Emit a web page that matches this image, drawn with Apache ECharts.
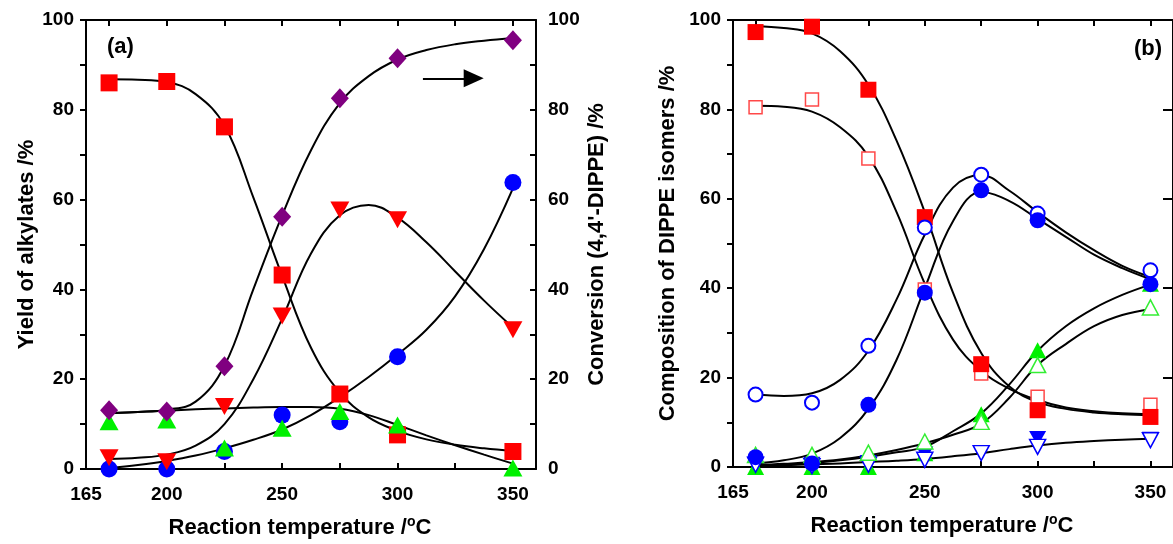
<!DOCTYPE html>
<html>
<head>
<meta charset="utf-8">
<script src="https://cdn.jsdelivr.net/npm/echarts@6/dist/echarts.min.js"></script>
<style>
html,body{margin:0;padding:0;background:#fff;}
#chart{width:1173px;height:544px;}
</style>
</head>
<body>
<div id="chart"></div>
<script>
// ---------- data ----------
const temps = [175, 200, 225, 250, 275, 300, 350];
const fitT = [175, 187.5, 200, 212.5, 225, 237.5, 250, 262.5, 275, 287.5, 300, 312.5, 325, 337.5, 350];
const xLabelTicks = [165, 200, 250, 300, 350];
const xMinorTicks = [175, 200, 225, 250, 275, 300, 325, 350];

// panel (a): yields (left axis) and conversion (right axis)
const aSquare  = [86.0, 86.3, 76.2, 43.2, 16.7, 7.6, 3.9];
const aTriDown = [2.5, 1.6, 13.9, 34.1, 57.7, 55.5, 31.0];
const aCircle  = [0, 0, 3.9, 12.0, 10.5, 25.0, 63.8];
const aTriUp   = [10.5, 10.9, 4.7, 9.1, 12.8, 9.8, 0.2];
const aDiamond = [13.1, 12.8, 22.9, 56.2, 82.6, 91.5, 95.5];

// panel (a) fitted curves
const aFitSquare  = [86.8, 86.7, 86.2, 83.5, 76.5, 60.5, 43, 27, 17, 11.5, 8.5, 6.6, 5.4, 4.6, 4.0];
const aFitTriDown = [2.2, 2.5, 3.2, 5.2, 10, 20, 33.5, 48, 56.5, 58.8, 56, 50.5, 44, 37.5, 31.5];
const aFitCircle  = [0.2, 0.9, 1.8, 3.0, 4.6, 6.5, 8.8, 12, 16, 20.5, 25.5, 31, 38.5, 49, 62.5];
const aFitTriUp   = [12.4, 12.7, 13, 13.3, 13.5, 13.7, 13.8, 13.8, 13.4, 12, 9.8, 7.5, 5.3, 3.2, 1.2];
const aFitDiamond = [12.5, 12.7, 13.2, 15, 23, 40, 56.5, 71, 81.5, 87.5, 91.2, 93.3, 94.6, 95.4, 96];

// panel (b): composition of DIPPE isomers
const bSqFill   = [97.3, 98.5, 84.4, 55.9, 23.0, 12.7, 11.2];
const bSqOpen   = [80.5, 82.2, 69.0, 39.7, 20.9, 15.7, 13.9];
const bCirOpen  = [16.2, 14.4, 27.1, 53.6, 65.4, 56.7, 44.0];
const bCirFill  = [2.2, 0.8, 13.9, 39.0, 61.9, 55.2, 40.9];
const bTriFill  = [0, 0, 0, 3.1, 11.8, 26.1, 41.0];
const bTriOpen  = [2.7, 2.7, 3.2, 5.7, 10.1, 22.8, 35.7];
const bDownOpen = [0.5, 0.2, 0.5, 1.6, 3.1, 4.5, 6.0];
const bDownFill = [0.6, 0.6, 1.0, 2.9, 3.2, 6.4, 6.2];

// panel (b) fitted curves
const bFitSqFill  = [98.6, 98.2, 97, 93, 85.5, 73, 57, 39, 25.5, 18, 14.5, 13, 12.2, 11.8, 11.6];
const bFitSqOpen  = [80.8, 80.6, 79.5, 76, 69.5, 57, 41, 28.5, 21.5, 17.5, 15, 13.3, 12.5, 12, 11.8];
const bFitCirOpen = [16.2, 15.9, 16.5, 19.5, 26, 37.5, 52, 62.5, 65.3, 61.8, 57, 52.5, 48.5, 45, 42.5];
const bFitCirFill = [0.8, 1.5, 3, 6.5, 13, 24, 40, 55, 61.5, 59.5, 55.5, 51.5, 47.5, 44.5, 42];
const bFitTriFill = [0.2, 0.5, 0.9, 1.5, 2.3, 3.3, 4.5, 8, 12, 18.5, 26, 31.5, 35.5, 38.5, 40.8];
const bFitTriOpen = [0.4, 0.7, 1.1, 1.7, 2.6, 3.8, 5.3, 7.2, 9.7, 15.5, 22.8, 27.5, 31.5, 34, 35.3];
const bFitDown    = [0.2, 0.4, 0.6, 0.8, 1.1, 1.4, 1.8, 2.4, 3.1, 4.0, 4.8, 5.4, 5.8, 6.1, 6.3];

// arrow annotation (data coords on panel a, right axis)
const arrowFrom = [311, 87];
const arrowTo = [333, 87];

// ---------- chart ----------
const FONT = "'Liberation Sans', Arial, sans-serif";
const pts = (xs, ys) => xs.map((x, i) => [x, ys[i]]);

const chart = echarts.init(document.getElementById('chart'), null, {renderer: 'canvas'});

const axLine = {show: true, onZero: false, lineStyle: {color: '#000', width: 2}};
const tickStyle = {color: '#000', width: 2};
const labelStyle = {color: '#000', fontSize: 19, fontWeight: 'bold', fontFamily: FONT};
const nameStyle = {color: '#000', fontSize: 22, fontWeight: 'bold', fontFamily: FONT};

function xBottom(grid) {
  return {
    type: 'value', gridIndex: grid, position: 'bottom', min: 165, max: 360,
    axisLine: axLine,
    axisTick: {show: true, inside: true, length: 6, lineStyle: tickStyle, customValues: xMinorTicks},
    axisLabel: Object.assign({margin: 16, customValues: xLabelTicks}, labelStyle),
    splitLine: {show: false},
    name: 'Reaction temperature /{sup|o}C', nameLocation: 'middle', nameGap: 46,
    nameTextStyle: Object.assign({padding: [0, 22, 0, 0], rich: {sup: {fontSize: 14, fontWeight: 'bold', fontFamily: FONT, color: '#000', padding: [0, 0, 11, 0]}}}, nameStyle)
  };
}
function xTop(grid) {
  return {
    type: 'value', gridIndex: grid, position: 'top', min: 165, max: 360,
    axisLine: axLine,
    axisTick: {show: true, inside: true, length: 6, lineStyle: tickStyle, customValues: xMinorTicks},
    axisLabel: {show: false}, splitLine: {show: false}
  };
}
const yFmt = v => (v % 20 === 0 ? String(v) : '');

const option = {
  animation: false,
  backgroundColor: '#fff',
  grid: [
    {left: 86, top: 20, width: 450, height: 449},
    {left: 733, top: 20, width: 448, height: 447}
  ],
  xAxis: [xBottom(0), xTop(0), xBottom(1), xTop(1)],
  yAxis: [
    {
      type: 'value', gridIndex: 0, position: 'left', min: 0, max: 100, interval: 10,
      axisLine: axLine,
      axisTick: {show: true, inside: false, length: 6, lineStyle: tickStyle},
      axisLabel: Object.assign({margin: 12, formatter: yFmt}, labelStyle),
      splitLine: {show: false},
      name: 'Yield of alkylates /%', nameLocation: 'middle', nameGap: 48, nameRotate: 90,
      nameTextStyle: nameStyle
    },
    {
      type: 'value', gridIndex: 0, position: 'right', min: 0, max: 100, interval: 10,
      axisLine: axLine,
      axisTick: {show: true, inside: true, length: 6, lineStyle: tickStyle},
      axisLabel: Object.assign({margin: 12, formatter: yFmt}, labelStyle),
      splitLine: {show: false},
      name: "Conversion (4,4'-DIPPE) /%", nameLocation: 'middle', nameGap: 50, nameRotate: 90,
      nameTextStyle: nameStyle
    },
    {
      type: 'value', gridIndex: 1, position: 'left', min: 0, max: 100, interval: 10,
      axisLine: axLine,
      axisTick: {show: true, inside: false, length: 6, lineStyle: tickStyle},
      axisLabel: Object.assign({margin: 12, formatter: yFmt}, labelStyle),
      splitLine: {show: false},
      name: 'Composition of DIPPE isomers /%', nameLocation: 'middle', nameGap: 54, nameRotate: 90,
      nameTextStyle: nameStyle
    },
    {
      type: 'value', gridIndex: 1, position: 'right', min: 0, max: 100, interval: 20,
      axisLine: axLine,
      axisTick: {show: true, inside: true, length: 10, lineStyle: tickStyle},
      axisLabel: {show: false}, splitLine: {show: false}
    }
  ],
  graphic: [
    {type: 'text', left: 107, top: 36, style: {text: '(a)', font: 'bold 22px ' + FONT, fill: '#000'}},
    {type: 'text', left: 1134, top: 38, style: {text: '(b)', font: 'bold 22px ' + FONT, fill: '#000'}}
  ],
  series: []
};

function fit(xi, yi, ys) {
  return {type: 'line', xAxisIndex: xi, yAxisIndex: yi, data: pts(fitT, ys), smooth: 0.4,
          showSymbol: false, symbol: 'none', lineStyle: {color: '#000', width: 2}, z: 2, silent: true};
}
function sc(xi, yi, ys, symbol, size, style, rot) {
  return {type: 'scatter', xAxisIndex: xi, yAxisIndex: yi, data: pts(temps, ys), symbol: symbol,
          symbolSize: size, symbolRotate: rot || 0, itemStyle: Object.assign({opacity: 1}, style), z: 3, clip: false};
}
const RED = '#ff0000', BLUE = '#0000ff', GREEN = '#00f000', PURPLE = '#800080';

option.series.push(
  fit(0, 0, aFitSquare), fit(0, 0, aFitTriDown), fit(0, 0, aFitCircle), fit(0, 0, aFitTriUp),
  Object.assign(fit(0, 1, aFitDiamond), {
    markLine: {
      silent: true, symbol: ['none', 'triangle'], symbolSize: [18, 20],
      lineStyle: {color: '#000', width: 2, type: 'solid', opacity: 1}, label: {show: false},
      itemStyle: {color: '#000'},
      data: [[{coord: arrowFrom}, {coord: arrowTo}]]
    }
  }),
  sc(0, 0, aCircle, 'circle', 17, {color: BLUE}),
  sc(0, 0, aSquare, 'rect', 17, {color: RED}),
  sc(0, 0, aTriUp, 'triangle', [19, 17], {color: GREEN}),
  sc(0, 0, aTriDown, 'triangle', [19, 17], {color: RED}, 180),
  sc(0, 1, aDiamond, 'diamond', [18, 20], {color: PURPLE}),

  fit(2, 2, bFitSqFill), fit(2, 2, bFitSqOpen), fit(2, 2, bFitCirOpen), fit(2, 2, bFitCirFill),
  fit(2, 2, bFitTriFill), fit(2, 2, bFitTriOpen), fit(2, 2, bFitDown),
  sc(2, 2, bTriFill, 'triangle', [17, 16], {color: GREEN}),
  sc(2, 2, bDownFill, 'triangle', [17, 15], {color: BLUE}, 180),
  sc(2, 2, bDownOpen, 'triangle', [16, 15], {color: '#fff', borderColor: BLUE, borderWidth: 1.5}, 180),
  sc(2, 2, bTriOpen, 'triangle', [16, 15], {color: '#fff', borderColor: '#33ee33', borderWidth: 1.5}),
  sc(2, 2, bSqOpen, 'rect', 13, {color: '#fff', borderColor: '#ff4848', borderWidth: 1.5}),
  sc(2, 2, bSqFill, 'rect', 16, {color: RED}),
  sc(2, 2, bCirOpen, 'circle', 14, {color: '#fff', borderColor: BLUE, borderWidth: 2}),
  sc(2, 2, bCirFill, 'circle', 16, {color: BLUE})
);

chart.setOption(option);
</script>
</body>
</html>
